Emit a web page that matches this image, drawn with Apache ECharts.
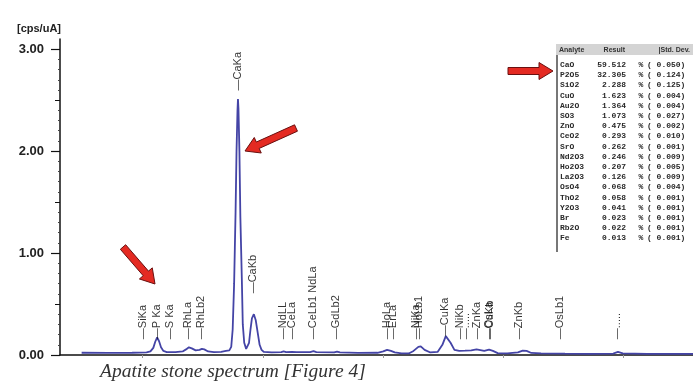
<!DOCTYPE html>
<html>
<head>
<meta charset="utf-8">
<title>Apatite stone spectrum</title>
<script src="https://cdn.jsdelivr.net/npm/echarts@6.0.0/dist/echarts.min.js"></script>
<style>
  html, body { margin: 0; padding: 0; background: #fff; }
  #chart { width: 693px; height: 386px; }
</style>
</head>
<body>
<div id="chart"></div>
<script>
// spectrum: energy in keV, intensity in cps/uA
var energy = [0.45, 1.00, 1.50, 1.80, 1.88, 1.94, 1.98, 2.02, 2.06, 2.10, 2.15, 2.22, 2.40,
  2.55, 2.62, 2.68, 2.74, 2.82, 2.90, 2.95, 3.00, 3.08, 3.20, 3.35, 3.45,
  3.52, 3.56, 3.59, 3.62, 3.635, 3.65, 3.67, 3.69, 3.70, 3.71, 3.73, 3.75, 3.765, 3.78, 3.80, 3.83, 3.87,
  3.89, 3.93, 3.96, 3.99, 4.03, 4.07, 4.11, 4.15, 4.19, 4.24,
  4.40, 4.60, 4.65, 4.70, 4.82, 4.86, 4.92, 5.20, 5.27, 5.33, 5.70, 5.76, 5.82,
  6.20, 6.60, 6.72, 6.80, 6.88, 6.96, 7.10, 7.25, 7.35, 7.45, 7.50, 7.58, 7.70,
  7.85, 7.95, 8.02, 8.06, 8.12, 8.20, 8.30, 8.42, 8.55, 8.66, 8.74, 8.82, 8.92, 9.00, 9.10,
  9.30, 9.52, 9.62, 9.70, 9.80, 10.00, 10.50, 11.00, 11.50, 11.60, 11.70, 12.20, 13.16];
var counts = [0.022, 0.020, 0.022, 0.025, 0.035, 0.070, 0.130, 0.172, 0.135, 0.075, 0.040, 0.028, 0.028,
  0.035, 0.055, 0.075, 0.065, 0.045, 0.050, 0.060, 0.055, 0.035, 0.028, 0.030, 0.040,
  0.045, 0.080, 0.250, 0.700, 1.050, 1.400, 2.000, 2.400, 2.510, 2.420, 2.000, 1.350, 1.050, 0.750, 0.300, 0.120, 0.060,
  0.055, 0.120, 0.250, 0.360, 0.400, 0.340, 0.220, 0.100, 0.050, 0.030,
  0.025, 0.028, 0.035, 0.028, 0.030, 0.038, 0.028, 0.028, 0.038, 0.028, 0.025, 0.032, 0.025,
  0.020, 0.022, 0.035, 0.050, 0.040, 0.025, 0.015, 0.015, 0.040, 0.080, 0.085, 0.050, 0.025,
  0.030, 0.100, 0.185, 0.190, 0.120, 0.050, 0.040, 0.042, 0.045, 0.055, 0.048, 0.040, 0.052, 0.040, 0.018,
  0.015, 0.025, 0.042, 0.040, 0.020, 0.015, 0.013, 0.012, 0.014, 0.030, 0.015, 0.012, 0.012];

// peak identification markers
var peakNames = ['SiKa', 'P Ka', 'S Ka', 'RhLa', 'RhLb2', 'CaKa', 'CaKb', 'NdLL', 'CeLa', 'CeLb1 NdLa',
  'GdLb2', 'HoLa', 'ErLa', 'NiKa', 'HoLb1', 'CuKa', 'NiKb', '.....', 'ZnKa', 'OsLa', 'CuKb',
  'ZnKb', 'OsLb1', '.....'];
var peakEnergy = [1.73, 2.02, 2.29, 2.68, 2.95, 3.70, 4.03, 4.64, 4.84, 5.26,
  5.74, 6.80, 6.94, 7.42, 7.47, 8.02, 8.32, 8.46, 8.67, 8.93, 8.95,
  9.56, 10.40, 11.60];
var peakLabelY = [0.15, 0.15, 0.15, 0.15, 0.15, 2.59, 0.60, 0.15, 0.15, 0.15,
  0.15, 0.15, 0.15, 0.15, 0.15, 0.18, 0.15, 0.15, 0.15, 0.15, 0.15,
  0.15, 0.15, 0.15];

// quantitative results table
var analytes = ['CaO', 'P2O5', 'SiO2', 'CuO', 'Au2O', 'SO3', 'ZnO', 'CeO2', 'SrO', 'Nd2O3',
  'Ho2O3', 'La2O3', 'OsO4', 'ThO2', 'Y2O3', 'Br', 'Rb2O', 'Fe'];
var results = ['59.512', '32.305', '2.288', '1.623', '1.364', '1.073', '0.475', '0.293', '0.262', '0.246',
  '0.207', '0.126', '0.068', '0.058', '0.041', '0.023', '0.022', '0.013'];
var stdDevs = ['0.050', '0.124', '0.125', '0.004', '0.004', '0.027', '0.002', '0.010', '0.001', '0.009',
  '0.005', '0.009', '0.004', '0.001', '0.001', '0.001', '0.001', '0.001'];

var yTicks = [0, 1, 2, 3];
var yHalfTicks = [0.5, 1.5, 2.5];
var xTicks = [1.72, 4.22, 6.72, 9.22, 11.72];

var chart = echarts.init(document.getElementById('chart'));

function arrow(x1, y1, x2, y2) {
  var dx = x2 - x1, dy = y2 - y1;
  var len = Math.sqrt(dx * dx + dy * dy);
  var ux = dx / len, uy = dy / len, nx = -uy, ny = ux;
  var sw = 3.5, hw = 8.5, hl = 14;
  var bx = x2 - ux * hl, by = y2 - uy * hl;
  return {
    type: 'polygon',
    shape: { points: [
      [x1 + nx * sw, y1 + ny * sw], [bx + nx * sw, by + ny * sw], [bx + nx * hw, by + ny * hw],
      [x2, y2],
      [bx - nx * hw, by - ny * hw], [bx - nx * sw, by - ny * sw], [x1 - nx * sw, y1 - ny * sw]
    ] },
    style: { fill: '#e42a22', stroke: '#6a1010', lineWidth: 1 },
    z: 100
  };
}

var graphics = [];
// table
var tx = 556, ty = 44;
graphics.push({ type: 'rect', shape: { x: tx, y: ty, width: 137, height: 11 }, style: { fill: '#d4d4d4' }, z: 50 });
graphics.push({ type: 'text', x: tx + 3, y: ty + 6, style: { text: 'Analyte', font: 'bold 7px "Liberation Sans"', fill: '#333', verticalAlign: 'middle' }, z: 51 });
graphics.push({ type: 'text', x: tx + 69, y: ty + 6, style: { text: 'Result', font: 'bold 7px "Liberation Sans"', fill: '#333', align: 'right', verticalAlign: 'middle' }, z: 51 });
graphics.push({ type: 'text', x: tx + 134, y: ty + 6, style: { text: '|Std. Dev.', font: 'bold 7px "Liberation Sans"', fill: '#333', align: 'right', verticalAlign: 'middle' }, z: 51 });
graphics.push({ type: 'line', shape: { x1: tx + 1, y1: ty + 11, x2: tx + 1, y2: 252 }, style: { stroke: '#777', lineWidth: 2 }, z: 51 });
for (var i = 0; i < analytes.length; i++) {
  var ry = 65 + i * 10.2;
  var f = 'bold 8px "Liberation Mono"';
  graphics.push({ type: 'text', x: tx + 4, y: ry, style: { text: analytes[i], font: f, fill: '#2a2a2a', verticalAlign: 'middle' }, z: 51 });
  graphics.push({ type: 'text', x: tx + 70, y: ry, style: { text: results[i], font: f, fill: '#2a2a2a', align: 'right', verticalAlign: 'middle' }, z: 51 });
  graphics.push({ type: 'text', x: tx + 85, y: ry, style: { text: '%', font: f, fill: '#2a2a2a', align: 'center', verticalAlign: 'middle' }, z: 51 });
  graphics.push({ type: 'text', x: tx + 91, y: ry, style: { text: '( ' + stdDevs[i] + ')', font: f, fill: '#2a2a2a', verticalAlign: 'middle' }, z: 51 });
}
// red arrows
graphics.push(arrow(123, 247, 155, 284));
graphics.push(arrow(296, 128, 245, 151));
graphics.push(arrow(508, 71, 553, 71));
// caption
graphics.push({ type: 'text', x: 100, y: 372, style: { text: 'Apatite stone spectrum [Figure 4]', font: 'italic 19.5px "Liberation Serif"', fill: '#333', verticalAlign: 'middle' }, z: 51 });

var option = {
  backgroundColor: '#fff',
  animation: false,
  title: {
    text: '[cps/uA]', left: 12, top: 18,
    textStyle: { fontSize: 11, fontWeight: 'bold', color: '#222', fontFamily: 'Liberation Sans' }
  },
  grid: { left: 60, top: 39, right: 0, bottom: 31 },
  xAxis: [{
    type: 'value', min: 0, max: 13.16, position: 'bottom',
    axisLine: { show: false },
    axisTick: { show: true, customValues: xTicks, length: 3, lineStyle: { color: '#999' } },
    axisLabel: { show: false },
    splitLine: { show: false }
  }, {
    type: 'value', min: 0, max: 13.16, position: 'top',
    axisLine: { show: true, lineStyle: { color: '#111', width: 1.5 } },
    axisTick: { show: false }, axisLabel: { show: false }, splitLine: { show: false }
  }],
  yAxis: [{
    type: 'value', min: 0, max: 3.1, interval: 1, position: 'left',
    axisLine: { show: true, lineStyle: { color: '#111', width: 1.5 } },
    axisTick: { show: true, customValues: yTicks, length: 9, lineStyle: { color: '#111', width: 1.2 } },
    minorTick: { show: true, splitNumber: 10, length: 2, lineStyle: { color: '#444' } },
    axisLabel: {
      customValues: yTicks, margin: 16, fontSize: 13, fontWeight: 'bold', color: '#222',
      fontFamily: 'Liberation Sans', formatter: function (v) { return v.toFixed(2); }
    },
    splitLine: { show: false }
  }, {
    type: 'value', min: 0, max: 3.1, interval: 0.5, position: 'left',
    axisLine: { show: false },
    axisTick: { show: true, customValues: yHalfTicks, length: 5, lineStyle: { color: '#111' } },
    axisLabel: { show: false }, splitLine: { show: false }
  }],
  series: [{
    type: 'line',
    data: energy.map(function (e, i) { return [e, counts[i]]; }),
    showSymbol: false,
    lineStyle: { color: '#4444a6', width: 1.8 },
    z: 3
  }, {
    type: 'scatter',
    data: peakEnergy.map(function (e, i) { return { value: [e, peakLabelY[i]], name: peakNames[i] }; }),
    symbolSize: 1,
    itemStyle: { color: 'rgba(0,0,0,0)' },
    label: {
      show: true, position: [0, 0], rotate: 90, align: 'left', verticalAlign: 'middle',
      fontSize: 11, color: '#000', fontFamily: 'Liberation Sans',
      formatter: function (p) { return '\u2014' + p.name; }
    },
    z: 4
  }],
  graphic: graphics
};
chart.setOption(option);
</script>
</body>
</html>
